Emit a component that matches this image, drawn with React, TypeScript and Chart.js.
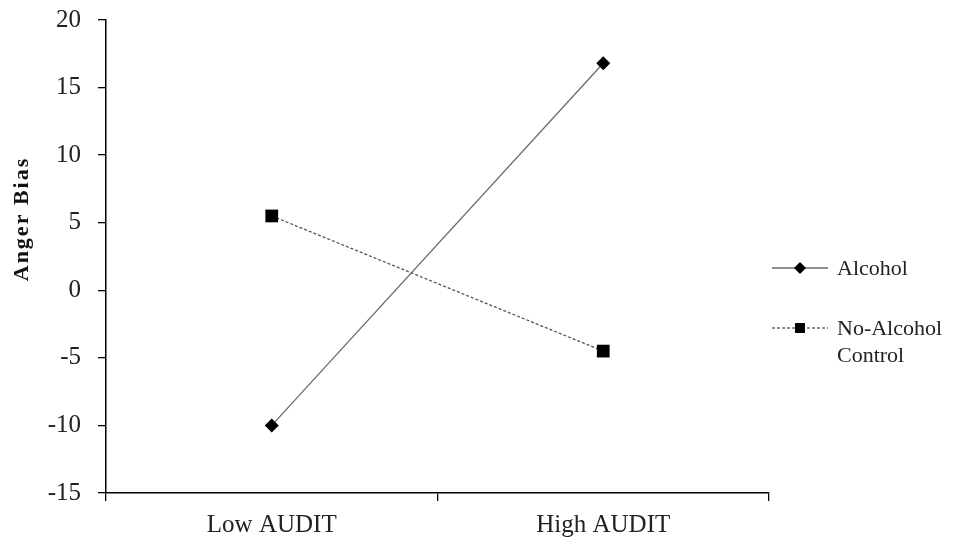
import React, { useEffect, useRef } from "react";
import { Chart, registerables } from "chart.js";

Chart.register(...registerables);

const categories = ["Low AUDIT", "High AUDIT"];
const alcoholValues = [-10, 16.8];
const controlValues = [5.5, -4.5];
const seriesNames = ["Alcohol", "No-Alcohol Control"];
const yTitle = "Anger Bias";
const FONT = "'Liberation Serif', 'Times New Roman', serif";

const overlayPlugin = {
  id: "overlay",
  afterDraw(chart: any) {
    const ctx = chart.ctx;
    ctx.save();
    // y-axis title
    ctx.translate(22, 219);
    ctx.rotate(-Math.PI / 2);
    ctx.font = `bold 22px ${FONT}`;
    (ctx as any).letterSpacing = "2px";
    ctx.fillStyle = "#111";
    ctx.textAlign = "center";
    ctx.textBaseline = "middle";
    ctx.fillText(yTitle, 0, 0);
    ctx.restore();

    // legend
    ctx.save();
    ctx.font = `22px ${FONT}`;
    ctx.fillStyle = "#222";
    ctx.textBaseline = "middle";
    ctx.textAlign = "left";
    // Alcohol
    let y = 268;
    ctx.strokeStyle = "#222";
    ctx.lineWidth = 1.2;
    ctx.setLineDash([]);
    ctx.beginPath();
    ctx.moveTo(772, y);
    ctx.lineTo(828, y);
    ctx.stroke();
    ctx.fillStyle = "#000";
    ctx.beginPath();
    ctx.moveTo(800, y - 6);
    ctx.lineTo(806, y);
    ctx.lineTo(800, y + 6);
    ctx.lineTo(794, y);
    ctx.closePath();
    ctx.fill();
    ctx.fillStyle = "#222";
    ctx.fillText(seriesNames[0], 837, y + 1);
    // Control
    y = 328;
    ctx.setLineDash([3, 2]);
    ctx.beginPath();
    ctx.moveTo(772, y);
    ctx.lineTo(828, y);
    ctx.stroke();
    ctx.setLineDash([]);
    ctx.fillStyle = "#000";
    ctx.fillRect(795, y - 5, 10, 10);
    ctx.fillStyle = "#222";
    const parts = seriesNames[1].split(" ");
    ctx.fillText(parts[0], 837, y + 1);
    ctx.fillText(parts[1], 837, y + 28);
    ctx.restore();
  },
};

export default function App() {
  const ref = useRef<HTMLCanvasElement>(null);
  useEffect(() => {
    const chart = new Chart(ref.current!, {
      type: "line",
      data: {
        labels: categories,
        datasets: [
          {
            label: seriesNames[0],
            data: alcoholValues,
            borderColor: "#6a6a6a",
            borderWidth: 1.3,
            pointStyle: "rectRot",
            pointRadius: 7,
            pointBackgroundColor: "#000",
            pointBorderColor: "#000",
            pointBorderWidth: 0,
            fill: false,
          },
          {
            label: seriesNames[1],
            data: controlValues,
            borderColor: "#555",
            borderWidth: 1.3,
            borderDash: [3, 2],
            pointStyle: "rect",
            pointRadius: 9,
            pointBackgroundColor: "#000",
            pointBorderColor: "#000",
            pointBorderWidth: 0,
            fill: false,
          },
        ],
      },
      options: {
        responsive: false,
        animation: false,
        layout: { padding: { left: 0, top: 20, right: 188, bottom: 0 } },
        plugins: { legend: { display: false }, tooltip: { enabled: false } },
        scales: {
          x: {
            type: "category",
            offset: true,
            grid: { drawOnChartArea: false, offset: true, tickLength: 8, color: "#000", lineWidth: 1.3 },
            border: { color: "#000", width: 1.5 },
            ticks: { color: "#222", font: { family: FONT, size: 25 }, padding: 9 },
            afterFit(scale: any) {
              scale.height = 51;
              scale.paddingLeft = 0;
              scale.paddingRight = 0;
            },
          },
          y: {
            min: -15,
            max: 20,
            grid: { drawOnChartArea: false, tickLength: 8, color: "#000", lineWidth: 1.3 },
            border: { color: "#000", width: 1.5 },
            ticks: { stepSize: 5, color: "#222", font: { family: FONT, size: 25 }, padding: 17 },
            afterFit(scale: any) {
              scale.width = 106;
              scale.paddingTop = 0;
              scale.paddingBottom = 0;
            },
          },
        },
      },
      plugins: [overlayPlugin],
    });
    return () => chart.destroy();
  }, []);
  return (
    <div style={{ position: "fixed", left: 0, top: 0, width: 957, height: 544, background: "#fff" }}>
      <canvas ref={ref} width={957} height={544} style={{ display: "block" }} />
    </div>
  );
}
